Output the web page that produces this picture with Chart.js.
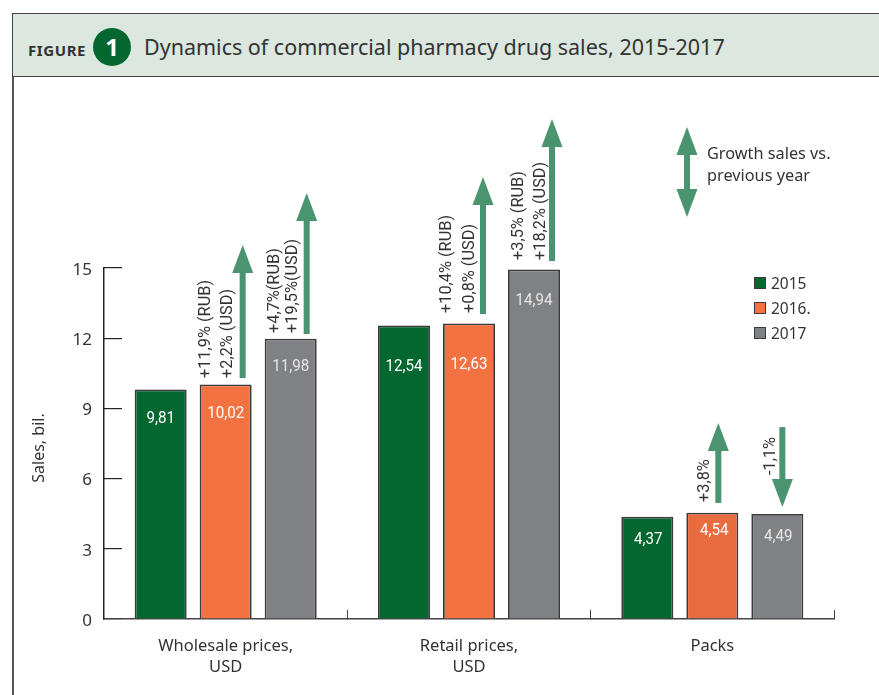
<!DOCTYPE html>
<html>
<head>
<meta charset="utf-8">
<title>Dynamics of commercial pharmacy drug sales, 2015-2017</title>
<script src="https://cdn.jsdelivr.net/npm/chart.js@4/dist/chart.umd.min.js"></script>
<style>
  html, body { margin: 0; padding: 0; background: #fff; overflow: hidden; }
  body { width: 879px; height: 695px; position: relative; font-family: "Noto Sans", sans-serif; color: #333; }
  #myChart { position: absolute; left: 0; top: 0; }
  .frame { position: absolute; left: 12px; top: 13px; width: 867px; height: 64px; background: #dbe7df;
           border-top: 1.5px solid #444; border-left: 1.5px solid #444; border-bottom: 1.5px solid #444; box-sizing: border-box; }
  .frame-left { position: absolute; left: 12px; top: 77px; width: 1.5px; height: 618px; background: #555; }
  .fig { position: absolute; left: 28px; top: 41px; font-size: 15px; line-height: 18px; font-weight: 700; letter-spacing: 0.6px; color: #333; }
  .badge { position: absolute; left: 93px; top: 28px; width: 38px; height: 38px; border-radius: 50%; background: #04672f;
           color: #fff; font-size: 24px; font-weight: 700; line-height: 38px; text-align: center; }
  .title { position: absolute; left: 144px; top: 32px; font-size: 21.5px; line-height: 30px; white-space: nowrap; color: #333; }
  .note { position: absolute; left: 707px; top: 142px; font-size: 16.3px; line-height: 22px; color: #333; }
  .key { position: absolute; left: 754px; width: 12px; height: 12px; box-sizing: border-box; border: 1.5px solid #3a3a3a; }
  .key-label { position: absolute; left: 771px; font-size: 15.5px; line-height: 20px; color: #333; }
</style>
</head>
<body>
<div class="frame"></div>
<div class="frame-left"></div>
<div class="fig">FIGURE</div>
<div class="badge">1</div>
<div class="title">Dynamics of commercial pharmacy drug sales, 2015-2017</div>
<canvas id="myChart" width="879" height="695"></canvas>
<div class="note">Growth sales vs.<br>previous year</div>
<div id="legend"></div>

<script>
const categories = [["Wholesale prices,", "USD"], ["Retail prices,", "USD"], "Packs"];
const seriesNames = ["2015", "2016.", "2017"];
const sales2015 = [9.81, 12.54, 4.37];
const sales2016 = [10.02, 12.63, 4.54];
const sales2017 = [11.98, 14.94, 4.49];
const yTicks = [0, 3, 6, 9, 12, 15];

// growth notes and the arrows beside them, in axis units
const notes2016 = [["+11,9% (RUB)", "+2,2% (USD)"], ["+10,4% (RUB)", "+0,8% (USD)"], ["+3,8%"]];
const notes2017 = [["+4,7%(RUB)", "+19,5%(USD)"], ["+3,5% (RUB)", "+18,2% (USD)"], ["-1,1%"]];
const arrowBase2016 = [10.3, 13.03, 4.96];
const arrowTip2016 = [15.98, 18.89, 8.38];
const arrowBase2017 = [12.18, 15.3, 8.2];
const arrowTip2017 = [18.2, 21.37, 4.79];

const GREEN = "#04672f", ORANGE = "#f47142", ORANGE_DARK = "#e86c3e", GREY = "#808184";
const ARROW = "#4b9470";
const TEXT = "#333";
const LABEL_FONT = '17px Roboto';

// hand tuned placement of the annotations around each bar
const arrowShift = { 1: [17, 14, 6], 2: [16, 18, 5] };
const noteShift = {
    1: [[-37, -15], [-36, -13], [-14]],
    2: [[-32, -14], [-33, -11], [-12]]
};
const noteBottom = { 1: [378, 313, 502], 2: [333, 260, 475] };
const valueDrop = [[29, 41, 23], [29, 41, 18], [28, 31, 23]];
const valueShift = [[0, 0, 1], [0, 0, 2], [0, 0, 1]];

function drawArrow(ctx, x, from, to){
    // from = tail pixel, to = tip pixel
    const dir = to < from ? 1 : -1;
    ctx.fillStyle = ARROW;
    ctx.fillRect(x - 3, Math.min(from, to + dir * 27), 6, Math.abs(from - (to + dir * 27)));
    ctx.beginPath();
    ctx.moveTo(x, to);
    ctx.lineTo(x - 10.5, to + dir * 28);
    ctx.lineTo(x + 10.5, to + dir * 28);
    ctx.closePath();
    ctx.fill();
}

// condensed text, the labels on the bars are narrower than any installed face
function narrowText(ctx, text, x, y, rotation, squeeze){
    ctx.save();
    ctx.translate(x, y);
    ctx.rotate(rotation);
    ctx.scale(squeeze, 1);
    ctx.fillText(text, 0, 0);
    ctx.restore();
}

const annotations = {
    id: "annotations",
    afterDatasetsDraw(chart){
        const ctx = chart.ctx;
        const y = chart.scales.y;
        ctx.save();
        ctx.font = LABEL_FONT;

        // value labels inside the bars
        ctx.textAlign = "center";
        ctx.textBaseline = "middle";
        chart.data.datasets.forEach((ds, i) => {
            chart.getDatasetMeta(i).data.forEach((bar, j) => {
                ctx.fillStyle = i == 2 ? "#e6e6e6" : "#fff";
                narrowText(ctx, ds.data[j].toFixed(2).replace(".", ","), bar.x + valueShift[i][j], bar.y + valueDrop[i][j], 0, 0.89);
            });
        });

        // growth arrows and rotated notes for 2016 and 2017
        [[1, notes2016, arrowBase2016, arrowTip2016], [2, notes2017, arrowBase2017, arrowTip2017]].forEach(([i, notes, base, tip]) => {
            chart.getDatasetMeta(i).data.forEach((bar, j) => {
                const ax = bar.x + arrowShift[i][j];
                drawArrow(ctx, ax, y.getPixelForValue(base[j]), y.getPixelForValue(tip[j]));
                ctx.textAlign = "left";
                ctx.fillStyle = TEXT;
                notes[j].forEach((line, k) => {
                    narrowText(ctx, line, ax + noteShift[i][j][k], noteBottom[i][j], -Math.PI / 2, 0.96);
                });
            });
        });

        // double arrow key next to the note
        drawArrow(ctx, 687, 172, 127);
        drawArrow(ctx, 687, 172, 217);

        // axis title
        ctx.translate(39, 448);
        ctx.rotate(-Math.PI / 2);
        ctx.font = '16px "Noto Sans"';
        ctx.textAlign = "center";
        ctx.textBaseline = "middle";
        ctx.fillStyle = TEXT;
        ctx.fillText("Sales, bil.", 0, 0);
        ctx.restore();
    }
};

const barStyle = { borderColor: "#3a3a3a", borderWidth: 1.8, barPercentage: 0.8, categoryPercentage: 0.8015 };

const myChart = new Chart(document.getElementById("myChart").getContext("2d"), {
    type: "bar",
    data: {
        labels: categories,
        datasets: [
            { label: seriesNames[0], data: sales2015, backgroundColor: GREEN, ...barStyle },
            { label: seriesNames[1], data: sales2016, backgroundColor: [ORANGE, ORANGE, ORANGE_DARK], ...barStyle },
            { label: seriesNames[2], data: sales2017, backgroundColor: GREY, ...barStyle }
        ]
    },
    options: {
        responsive: false,
        animation: false,
        layout: { padding: { top: 268, right: 45, left: 0, bottom: 0 } },
        plugins: { legend: { display: false }, tooltip: { enabled: false } },
        scales: {
            x: {
                afterFit(scale){ scale.height = 76; },
                border: { color: "#444", width: 1.5 },
                grid: { drawOnChartArea: false, drawTicks: true, tickLength: -9, tickColor: "#444", lineWidth: 1 },
                ticks: { color: TEXT, font: { family: "Noto Sans", size: 16.5, lineHeight: 1.27 }, padding: 25.5, maxRotation: 0 }
            },
            y: {
                min: 0,
                max: 15,
                afterFit(scale){ scale.width = 104; },
                afterBuildTicks(scale){ scale.ticks = yTicks.map(v => ({ value: v })); },
                border: { color: "#222", width: 1.5 },
                grid: { drawOnChartArea: false, drawTicks: true, tickLength: -18, tickColor: "#222", lineWidth: 1.2 },
                ticks: { color: TEXT, font: { family: "Noto Sans", size: 17 }, padding: 30, labelOffset: 2 }
            }
        }
    },
    plugins: [annotations]
});

// legend entries
const legendColors = [GREEN, ORANGE, GREY];
const legendTop = [277, 302, 327];
seriesNames.forEach((name, i) => {
    const box = document.createElement("div");
    box.className = "key";
    box.style.top = legendTop[i] + "px";
    box.style.background = legendColors[i];
    const label = document.createElement("div");
    label.className = "key-label";
    label.style.top = (legendTop[i] - 4) + "px";
    label.textContent = name;
    document.getElementById("legend").append(box, label);
});
</script>
</body>
</html>
